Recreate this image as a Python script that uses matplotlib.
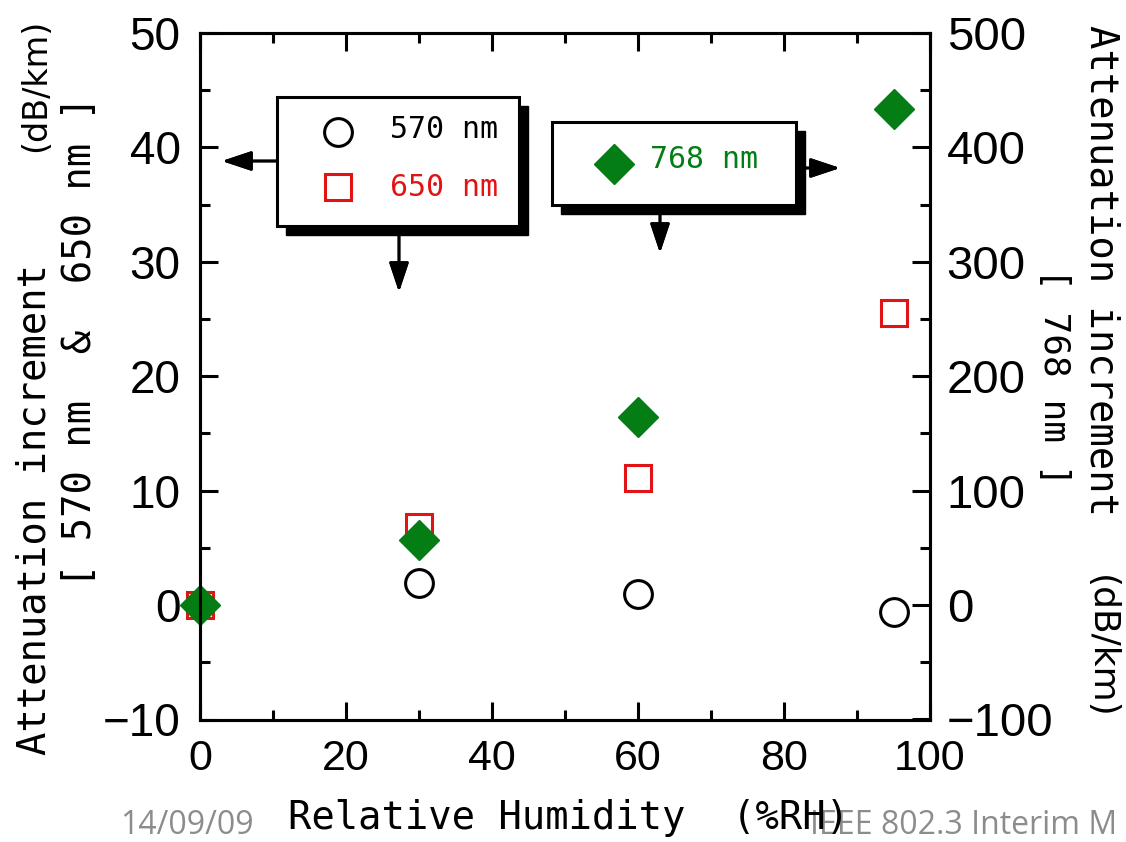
import numpy as np
import matplotlib.pyplot as plt
from matplotlib.patches import Rectangle
from matplotlib.lines import Line2D
from matplotlib.ticker import MultipleLocator

# humidity steps and attenuation increments
rh = [0, 30, 60, 95]
att_570 = [0.0, 1.9, 1.0, -0.6]       # dB/km, left axis
att_650 = [0.0, 6.8, 11.1, 25.5]      # dB/km, left axis
att_768 = [0.0, 57.0, 164.0, 434.0]   # dB/km, right axis

left_ticks = [-10, 0, 10, 20, 30, 40, 50]
right_ticks = [-100, 0, 100, 200, 300, 400, 500]

RED = "#e01414"
GREEN = "#037d14"
MONO = ["DejaVu Sans Mono"]
SANS = ["DejaVu Sans"]
TICKFONT = ["Liberation Sans", "DejaVu Sans"]

W, H = 1126, 842
fig = plt.figure(figsize=(W / 100, H / 100), dpi=100)
ax = fig.add_axes([200 / W, 1 - 719.5 / H, 730 / W, 686.5 / H])
ax2 = ax.twinx()


def px(x, y):
    return (x / W, 1 - y / H)


ax.plot(rh, att_570, "o", ms=20, mfc="white", mec="black", mew=2.2, clip_on=False)
ax.plot(rh, att_650, "s", ms=19, mfc="white", mec=RED, mew=2.2, clip_on=False)
ax2.plot(rh, att_768, "D", ms=20, color=GREEN, mec=GREEN, clip_on=False)

ax.set_xlim(0, 100)
ax.set_ylim(-10, 50)
ax2.set_ylim(-100, 500)

for a in (ax, ax2):
    for s in a.spines.values():
        s.set_linewidth(2.2)

ax.xaxis.set_major_locator(MultipleLocator(20))
ax.xaxis.set_minor_locator(MultipleLocator(10))
ax.yaxis.set_minor_locator(MultipleLocator(5))
ax2.yaxis.set_minor_locator(MultipleLocator(50))

ax.tick_params(axis="x", which="both", direction="in", top=True, bottom=True,
               width=2.2, pad=14)
ax.tick_params(axis="x", which="major", length=13)
ax.tick_params(axis="x", which="minor", length=7)
ax.tick_params(axis="y", which="both", direction="in", left=True, right=False,
               width=2.2, pad=14)
ax.tick_params(axis="y", which="major", length=13)
ax.tick_params(axis="y", which="minor", length=7.5)
ax2.tick_params(axis="y", which="both", direction="in", width=2.2, pad=12)
ax2.tick_params(axis="y", which="major", length=13)
ax2.tick_params(axis="y", which="minor", length=7.5)

for lab in ax.get_xticklabels():
    lab.set_family(TICKFONT)
    lab.set_fontsize(31)

ax.set_yticks(left_ticks)
ax.set_yticklabels([str(v).replace("-", "\u2212") for v in left_ticks],
                   family=TICKFONT, fontsize=33)
ax2.set_yticks(right_ticks)
ax2.set_yticklabels([str(v).replace("-", "\u2212") for v in right_ticks],
                    family=TICKFONT, fontsize=34)

# axis titles
fig.text(*px(288, 818), "Relative Humidity  (%RH)", family=MONO, fontsize=28,
         ha="left", va="center")
fig.text(*px(35, 510), "Attenuation increment", family=MONO,
         fontsize=28, rotation=90, ha="center", va="center")
fig.text(*px(36, 85), "(dB/km)", family=SANS,
         fontsize=24, rotation=90, ha="center", va="center")
fig.text(*px(80, 342), "[ 570 nm  &  650 nm ]", family=MONO,
         fontsize=28, rotation=90, ha="center", va="center")
fig.text(*px(1102, 270), "Attenuation increment", family=MONO,
         fontsize=28, rotation=270, ha="center", va="center")
fig.text(*px(1101, 647), "(dB/km)", family=SANS,
         fontsize=26, rotation=270, ha="center", va="center")
fig.text(*px(1054, 377), "[ 768 nm ]", family=MONO,
         fontsize=26, rotation=270, ha="center", va="center")


def shadow_box(x0, y0, x1, y1, off=9):
    fx0, fy1 = px(x0, y0)
    fx1, fy0 = px(x1, y1)
    dx, dy = off / W, off / H
    fig.add_artist(Rectangle((fx0 + dx, fy0 - dy), fx1 - fx0, fy1 - fy0,
                             transform=fig.transFigure, facecolor="black",
                             edgecolor="black", lw=1, zorder=5))
    fig.add_artist(Rectangle((fx0, fy0), fx1 - fx0, fy1 - fy0,
                             transform=fig.transFigure, facecolor="white",
                             edgecolor="black", lw=2.2, zorder=6))


def arrow(x0, y0, x1, y1):
    fig.add_artist(plt.annotate("", xy=px(x1, y1), xytext=px(x0, y0),
                                xycoords="figure fraction",
                                arrowprops=dict(arrowstyle="-|>,head_length=0.9,head_width=0.3",
                                                lw=2, color="black",
                                                mutation_scale=20,
                                                shrinkA=0, shrinkB=0)))


# key for the left-axis series
shadow_box(277, 97, 519, 226)
arrow(277, 161, 222, 161)
arrow(399, 235, 399, 292)
fig.add_artist(Line2D([px(338, 0)[0]], [px(0, 132)[1]], marker="o", ms=20,
                      mfc="white", mec="black", mew=2.2, ls="none",
                      transform=fig.transFigure, zorder=7))
fig.add_artist(Line2D([px(338, 0)[0]], [px(0, 187)[1]], marker="s", ms=19,
                      mfc="white", mec=RED, mew=2.2, ls="none",
                      transform=fig.transFigure, zorder=7))
fig.text(*px(390, 130), "570 nm", family=MONO, fontsize=21.5, ha="left",
         va="center", zorder=7)
fig.text(*px(390, 187), "650 nm", family=MONO, fontsize=21.5, ha="left",
         va="center", color=RED, zorder=7)

# key for the right-axis series
shadow_box(552, 122, 796, 205)
arrow(804, 168, 840, 168)
arrow(660, 213, 660, 253)
fig.add_artist(Line2D([px(614, 0)[0]], [px(0, 164)[1]], marker="D", ms=20,
                      color=GREEN, ls="none", transform=fig.transFigure,
                      zorder=7))
fig.text(*px(650, 160), "768 nm", family=MONO, fontsize=21.5, ha="left",
         va="center", color=GREEN, zorder=7)

# slide footer
fig.text(*px(120, 834), "14/09/09", family=["Open Sans"], fontsize=23,
         color="#8c8c8c", ha="left", va="baseline", zorder=0)
fig.text(*px(810, 834), "IEEE 802.3 Interim M", family=["Open Sans"],
         fontsize=23, color="#8c8c8c", ha="left", va="baseline", zorder=0)

fig.savefig("out.png", dpi=100)
